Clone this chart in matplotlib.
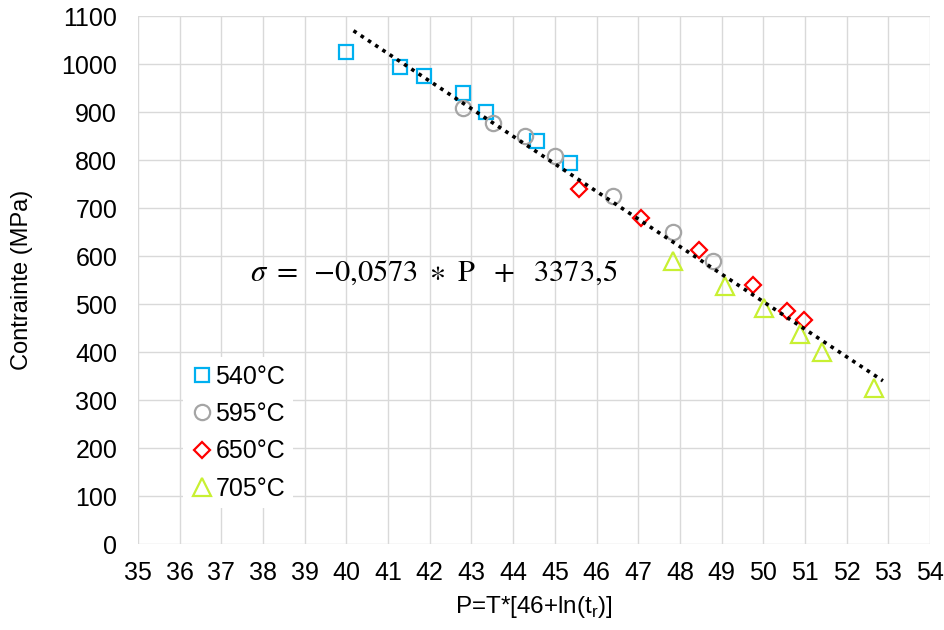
import numpy as np
import matplotlib
matplotlib.use("Agg")
import matplotlib.pyplot as plt

# Data
p540 = [40.00, 41.29, 41.87, 42.79, 43.35, 44.56, 45.36]
s540 = [1024, 993, 974, 939, 901, 840, 794]
p595 = [42.79, 43.52, 44.28, 45.01, 46.40, 47.84, 48.80]
s595 = [908, 877, 849, 808, 725, 649, 590]
p650 = [45.58, 47.06, 48.45, 49.76, 50.56, 50.97]
s650 = [739, 680, 612, 540, 485, 467]
p705 = [47.84, 49.08, 50.01, 50.88, 51.42, 52.66]
s705 = [590, 537, 491, 437, 399, 324]

trend_x = [40.17, 52.87]
equation = r'$\sigma\ =\ \,{-}0{,}0573\ \ast\ \mathrm{P}\ \ +\ \ 3373{,}5$'

xticks = list(range(35, 55))
yticks = list(range(0, 1101, 100))

plt.rcParams['font.family'] = ['Liberation Sans', 'DejaVu Sans']

fig = plt.figure(figsize=(9.44, 6.30), dpi=100)
ax = fig.add_axes([138/944, 1-544/630, (930-138)/944, (544-16)/630])

ax.set_xlim(35, 54)
ax.set_ylim(0, 1100)
ax.set_xticks(xticks)
ax.set_yticks(yticks)
ax.grid(True, color='#D9D9D9', lw=1)
ax.set_axisbelow(True)
for s in ax.spines.values():
    s.set_visible(False)
ax.tick_params(length=0, labelsize=18)
ax.tick_params(axis='y', pad=15)
ax.tick_params(axis='x', pad=12)

mew = 1.6
ax.plot(p540, s540, 's', ms=10.5, mfc='none', mec='#00B0F0', mew=mew, label='540°C')
ax.plot(p595, s595, 'o', ms=11, mfc='none', mec='#A5A5A5', mew=mew, label='595°C')
ax.plot(p650, s650, 'D', ms=8.5, mfc='none', mec='#FF0000', mew=mew, label='650°C')
ax.plot(p705, s705, '^', ms=13, mfc='none', mec='#C8F032', mew=mew, label='705°C')

# least-squares trend line through all points
allx = np.array(p540 + p595 + p650 + p705)
ally = np.array(s540 + s595 + s650 + s705)
slope, intercept = np.polyfit(allx, ally, 1)
tx = np.array(trend_x)
ax.plot(tx, slope*tx + intercept, color='black', lw=2.6, linestyle=(0, (1, 1.4)),
        dash_capstyle='butt', zorder=5)

fig.text(250/944, 1-273/630, equation, fontsize=22, va='center', ha='left',
         math_fontfamily='stix')

leg = ax.legend(loc='lower left', bbox_to_anchor=(183/944, 1-508/630), bbox_transform=fig.transFigure,
                frameon=True, fontsize=18, handletextpad=0.1, handlelength=0.9,
                labelspacing=0.53, borderpad=0.3, borderaxespad=0)
leg.get_frame().set_edgecolor('none')
leg.get_frame().set_facecolor('white')
leg.get_frame().set_alpha(1)

ax.set_ylabel('Contrainte (MPa)', fontsize=17)
ax.set_xlabel(r'P=T*[46+ln(t$_\mathregular{r}$)]', fontsize=17.5)
ax.yaxis.set_label_coords((22-138)/792, 0.5)
ax.xaxis.set_label_coords(0.5, (544-607)/528)
ax.xaxis.label.set_va('center')
ax.yaxis.label.set_va('center')

fig.savefig('out.png', dpi=100)
